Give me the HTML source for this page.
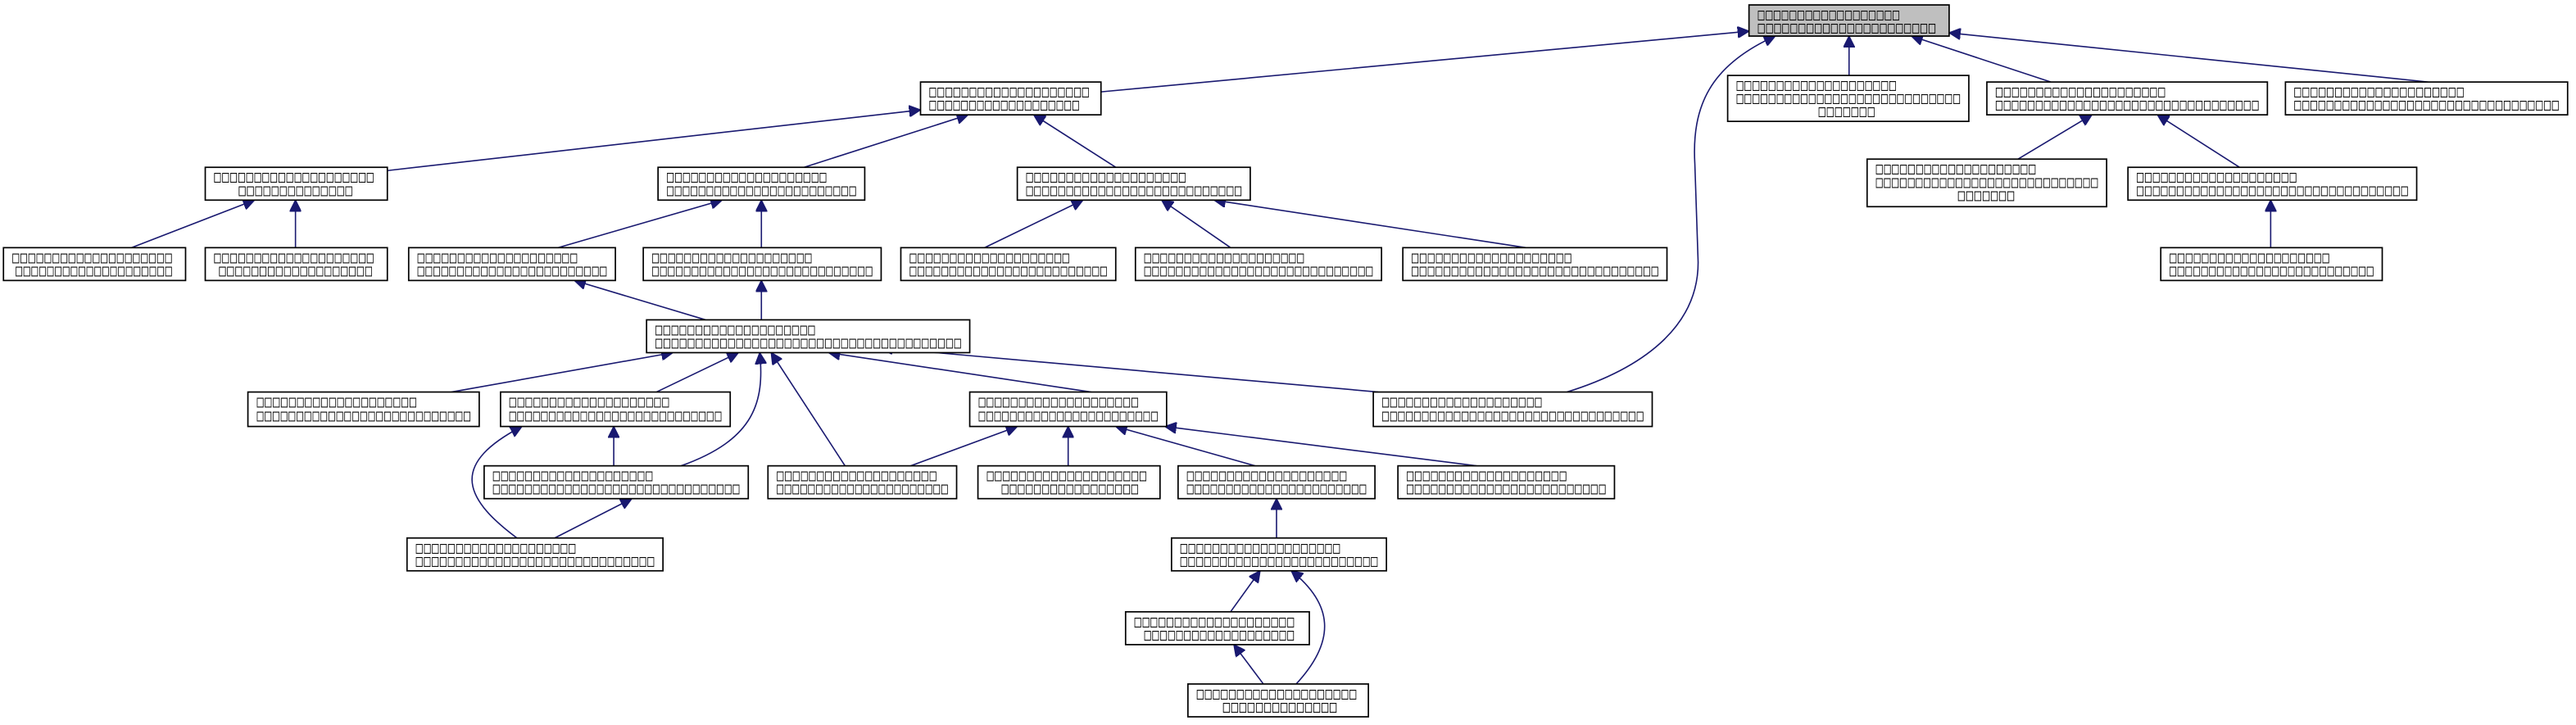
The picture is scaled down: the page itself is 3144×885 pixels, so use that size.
<!DOCTYPE html>
<html><head><meta charset="utf-8"><style>
html,body{margin:0;padding:0;background:#fff;}
svg{display:block;}
text{font-family:"DejaVu Sans","Liberation Sans",sans-serif;font-size:7.6px;fill:#000;stroke:#000;stroke-width:0.15;}
rect{fill:#fff;stroke:#000;stroke-width:0.85;}
.e{fill:none;stroke:#191970;stroke-width:0.8;}
</style></head><body>
<svg width="3144" height="885" viewBox="0 0 1570 442" xmlns="http://www.w3.org/2000/svg">
<defs><marker id="a" viewBox="0 0 10 10" refX="10" refY="5" markerWidth="7" markerHeight="7" orient="auto" markerUnits="userSpaceOnUse"><path d="M0,0 L10,5 L0,10 z" fill="#191970" stroke="#191970"/></marker></defs>
<g class="edges">
<path class="e" marker-end="url(#a)" d="M671,56 L1066,19"/>
<path class="e" marker-end="url(#a)" d="M1127,46 L1127,22"/>
<path class="e" marker-end="url(#a)" d="M1250,50 L1165,22"/>
<path class="e" marker-end="url(#a)" d="M1480,50 L1188,20"/>
<path class="e" marker-end="url(#a)" d="M955,239 C1000,225 1035,200 1035,160 L1033,100 C1031,65 1042,40 1082,22"/>
<path class="e" marker-end="url(#a)" d="M236,104 L561,67"/>
<path class="e" marker-end="url(#a)" d="M490,102 L590,70"/>
<path class="e" marker-end="url(#a)" d="M680,102 L630,70"/>
<path class="e" marker-end="url(#a)" d="M80,151 L155,122"/>
<path class="e" marker-end="url(#a)" d="M180,151 L180,122"/>
<path class="e" marker-end="url(#a)" d="M340,151 L440,122"/>
<path class="e" marker-end="url(#a)" d="M464,151 L464,122"/>
<path class="e" marker-end="url(#a)" d="M600,151 L660,122"/>
<path class="e" marker-end="url(#a)" d="M750,151 L708,122"/>
<path class="e" marker-end="url(#a)" d="M930,151 L740,122"/>
<path class="e" marker-end="url(#a)" d="M1230,97 L1275,70"/>
<path class="e" marker-end="url(#a)" d="M1365,102 L1315,70"/>
<path class="e" marker-end="url(#a)" d="M1384,151 L1384,122"/>
<path class="e" marker-end="url(#a)" d="M430,195 L350,171"/>
<path class="e" marker-end="url(#a)" d="M464,195 L464,171"/>
<path class="e" marker-end="url(#a)" d="M275,239 L410,215"/>
<path class="e" marker-end="url(#a)" d="M400,239 L450,215"/>
<path class="e" marker-end="url(#a)" d="M415,284 C460,268 466,245 463,215"/>
<path class="e" marker-end="url(#a)" d="M515,284 L470,215"/>
<path class="e" marker-end="url(#a)" d="M665,239 L505,215"/>
<path class="e" marker-end="url(#a)" d="M840,239 L537,212"/>
<path class="e" marker-end="url(#a)" d="M374,284 L374,260"/>
<path class="e" marker-end="url(#a)" d="M338,328 L385,304"/>
<path class="e" marker-end="url(#a)" d="M315,328 C280,302 276,282 318,260"/>
<path class="e" marker-end="url(#a)" d="M555,284 L620,260"/>
<path class="e" marker-end="url(#a)" d="M651,284 L651,260"/>
<path class="e" marker-end="url(#a)" d="M765,284 L680,260"/>
<path class="e" marker-end="url(#a)" d="M900,284 L710,260"/>
<path class="e" marker-end="url(#a)" d="M778,328 L778,304"/>
<path class="e" marker-end="url(#a)" d="M750,373 L768,348"/>
<path class="e" marker-end="url(#a)" d="M770,417 L752,393"/>
<path class="e" marker-end="url(#a)" d="M790,417 C815,390 812,368 787,348"/>
</g>
<g>
<rect x="1066" y="3" width="122" height="19" style="fill:#bfbfbf"/>
<text x="1071" y="11.5" textLength="87" lengthAdjust="spacingAndGlyphs">□□□□□□□□□□□□□□□□□□</text>
<text x="1071" y="19.5" textLength="109" lengthAdjust="spacingAndGlyphs">□□□□□□□□□□□□□□□□□□□□□□</text>

<rect x="561" y="50" width="110" height="20"/>
<text x="566" y="58.5" textLength="98" lengthAdjust="spacingAndGlyphs">□□□□□□□□□□□□□□□□□□□□</text>
<text x="566" y="66.5" textLength="92" lengthAdjust="spacingAndGlyphs">□□□□□□□□□□□□□□□□□□□</text>

<rect x="1053" y="46" width="147" height="28"/>
<text x="1058" y="54.5" textLength="98" lengthAdjust="spacingAndGlyphs">□□□□□□□□□□□□□□□□□□□□</text>
<text x="1058" y="62.5" textLength="137" lengthAdjust="spacingAndGlyphs">□□□□□□□□□□□□□□□□□□□□□□□□□□□□</text>
<text x="1108" y="70.5" textLength="35" lengthAdjust="spacingAndGlyphs">□□□□□□□</text>

<rect x="1211" y="50" width="171" height="20"/>
<text x="1216" y="58.5" textLength="104" lengthAdjust="spacingAndGlyphs">□□□□□□□□□□□□□□□□□□□□□</text>
<text x="1216" y="66.5" textLength="161" lengthAdjust="spacingAndGlyphs">□□□□□□□□□□□□□□□□□□□□□□□□□□□□□□□□□</text>

<rect x="1393" y="50" width="172" height="20"/>
<text x="1398" y="58.5" textLength="104" lengthAdjust="spacingAndGlyphs">□□□□□□□□□□□□□□□□□□□□□</text>
<text x="1398" y="66.5" textLength="162" lengthAdjust="spacingAndGlyphs">□□□□□□□□□□□□□□□□□□□□□□□□□□□□□□□□□</text>

<rect x="125" y="102" width="111" height="20"/>
<text x="130" y="110.5" textLength="98" lengthAdjust="spacingAndGlyphs">□□□□□□□□□□□□□□□□□□□□</text>
<text x="145" y="118.5" textLength="70" lengthAdjust="spacingAndGlyphs">□□□□□□□□□□□□□□</text>

<rect x="401" y="102" width="126" height="20"/>
<text x="406" y="110.5" textLength="98" lengthAdjust="spacingAndGlyphs">□□□□□□□□□□□□□□□□□□□□</text>
<text x="406" y="118.5" textLength="116" lengthAdjust="spacingAndGlyphs">□□□□□□□□□□□□□□□□□□□□□□□□</text>

<rect x="620" y="102" width="142" height="20"/>
<text x="625" y="110.5" textLength="98" lengthAdjust="spacingAndGlyphs">□□□□□□□□□□□□□□□□□□□□</text>
<text x="625" y="118.5" textLength="132" lengthAdjust="spacingAndGlyphs">□□□□□□□□□□□□□□□□□□□□□□□□□□□</text>

<rect x="1138" y="97" width="146" height="29"/>
<text x="1143" y="105.5" textLength="98" lengthAdjust="spacingAndGlyphs">□□□□□□□□□□□□□□□□□□□□</text>
<text x="1143" y="113.5" textLength="136" lengthAdjust="spacingAndGlyphs">□□□□□□□□□□□□□□□□□□□□□□□□□□□□</text>
<text x="1193" y="121.5" textLength="35" lengthAdjust="spacingAndGlyphs">□□□□□□□</text>

<rect x="1297" y="102" width="176" height="20"/>
<text x="1302" y="110.5" textLength="98" lengthAdjust="spacingAndGlyphs">□□□□□□□□□□□□□□□□□□□□</text>
<text x="1302" y="118.5" textLength="166" lengthAdjust="spacingAndGlyphs">□□□□□□□□□□□□□□□□□□□□□□□□□□□□□□□□□□</text>

<rect x="1317" y="151" width="135" height="20"/>
<text x="1322" y="159.5" textLength="98" lengthAdjust="spacingAndGlyphs">□□□□□□□□□□□□□□□□□□□□</text>
<text x="1322" y="167.5" textLength="125" lengthAdjust="spacingAndGlyphs">□□□□□□□□□□□□□□□□□□□□□□□□□□</text>

<rect x="2" y="151" width="111" height="20"/>
<text x="7" y="159.5" textLength="98" lengthAdjust="spacingAndGlyphs">□□□□□□□□□□□□□□□□□□□□</text>
<text x="9" y="167.5" textLength="96" lengthAdjust="spacingAndGlyphs">□□□□□□□□□□□□□□□□□□□□</text>

<rect x="125" y="151" width="111" height="20"/>
<text x="130" y="159.5" textLength="98" lengthAdjust="spacingAndGlyphs">□□□□□□□□□□□□□□□□□□□□</text>
<text x="133" y="167.5" textLength="94" lengthAdjust="spacingAndGlyphs">□□□□□□□□□□□□□□□□□□□</text>

<rect x="249" y="151" width="126" height="20"/>
<text x="254" y="159.5" textLength="98" lengthAdjust="spacingAndGlyphs">□□□□□□□□□□□□□□□□□□□□</text>
<text x="254" y="167.5" textLength="116" lengthAdjust="spacingAndGlyphs">□□□□□□□□□□□□□□□□□□□□□□□□</text>

<rect x="392" y="151" width="145" height="20"/>
<text x="397" y="159.5" textLength="98" lengthAdjust="spacingAndGlyphs">□□□□□□□□□□□□□□□□□□□□</text>
<text x="397" y="167.5" textLength="135" lengthAdjust="spacingAndGlyphs">□□□□□□□□□□□□□□□□□□□□□□□□□□□□</text>

<rect x="549" y="151" width="131" height="20"/>
<text x="554" y="159.5" textLength="98" lengthAdjust="spacingAndGlyphs">□□□□□□□□□□□□□□□□□□□□</text>
<text x="554" y="167.5" textLength="121" lengthAdjust="spacingAndGlyphs">□□□□□□□□□□□□□□□□□□□□□□□□□</text>

<rect x="692" y="151" width="150" height="20"/>
<text x="697" y="159.5" textLength="98" lengthAdjust="spacingAndGlyphs">□□□□□□□□□□□□□□□□□□□□</text>
<text x="697" y="167.5" textLength="140" lengthAdjust="spacingAndGlyphs">□□□□□□□□□□□□□□□□□□□□□□□□□□□□□</text>

<rect x="855" y="151" width="161" height="20"/>
<text x="860" y="159.5" textLength="98" lengthAdjust="spacingAndGlyphs">□□□□□□□□□□□□□□□□□□□□</text>
<text x="860" y="167.5" textLength="151" lengthAdjust="spacingAndGlyphs">□□□□□□□□□□□□□□□□□□□□□□□□□□□□□□□</text>

<rect x="394" y="195" width="197" height="20"/>
<text x="399" y="203.5" textLength="98" lengthAdjust="spacingAndGlyphs">□□□□□□□□□□□□□□□□□□□□</text>
<text x="399" y="211.5" textLength="187" lengthAdjust="spacingAndGlyphs">□□□□□□□□□□□□□□□□□□□□□□□□□□□□□□□□□□□□□□</text>

<rect x="151" y="239" width="141" height="21"/>
<text x="156" y="247.5" textLength="98" lengthAdjust="spacingAndGlyphs">□□□□□□□□□□□□□□□□□□□□</text>
<text x="156" y="256" textLength="131" lengthAdjust="spacingAndGlyphs">□□□□□□□□□□□□□□□□□□□□□□□□□□□</text>

<rect x="305" y="239" width="140" height="21"/>
<text x="310" y="247.5" textLength="98" lengthAdjust="spacingAndGlyphs">□□□□□□□□□□□□□□□□□□□□</text>
<text x="310" y="256" textLength="130" lengthAdjust="spacingAndGlyphs">□□□□□□□□□□□□□□□□□□□□□□□□□□□</text>

<rect x="591" y="239" width="120" height="21"/>
<text x="596" y="247.5" textLength="98" lengthAdjust="spacingAndGlyphs">□□□□□□□□□□□□□□□□□□□□</text>
<text x="596" y="256" textLength="110" lengthAdjust="spacingAndGlyphs">□□□□□□□□□□□□□□□□□□□□□□□</text>

<rect x="837" y="239" width="170" height="21"/>
<text x="842" y="247.5" textLength="98" lengthAdjust="spacingAndGlyphs">□□□□□□□□□□□□□□□□□□□□</text>
<text x="842" y="256" textLength="160" lengthAdjust="spacingAndGlyphs">□□□□□□□□□□□□□□□□□□□□□□□□□□□□□□□□□</text>

<rect x="295" y="284" width="161" height="20"/>
<text x="300" y="292.5" textLength="98" lengthAdjust="spacingAndGlyphs">□□□□□□□□□□□□□□□□□□□□</text>
<text x="300" y="300.5" textLength="151" lengthAdjust="spacingAndGlyphs">□□□□□□□□□□□□□□□□□□□□□□□□□□□□□□□</text>

<rect x="468" y="284" width="115" height="20"/>
<text x="473" y="292.5" textLength="98" lengthAdjust="spacingAndGlyphs">□□□□□□□□□□□□□□□□□□□□</text>
<text x="473" y="300.5" textLength="105" lengthAdjust="spacingAndGlyphs">□□□□□□□□□□□□□□□□□□□□□□</text>

<rect x="596" y="284" width="111" height="20"/>
<text x="601" y="292.5" textLength="98" lengthAdjust="spacingAndGlyphs">□□□□□□□□□□□□□□□□□□□□</text>
<text x="610" y="300.5" textLength="84" lengthAdjust="spacingAndGlyphs">□□□□□□□□□□□□□□□□□</text>

<rect x="718" y="284" width="120" height="20"/>
<text x="723" y="292.5" textLength="98" lengthAdjust="spacingAndGlyphs">□□□□□□□□□□□□□□□□□□□□</text>
<text x="723" y="300.5" textLength="110" lengthAdjust="spacingAndGlyphs">□□□□□□□□□□□□□□□□□□□□□□□</text>

<rect x="852" y="284" width="132" height="20"/>
<text x="857" y="292.5" textLength="98" lengthAdjust="spacingAndGlyphs">□□□□□□□□□□□□□□□□□□□□</text>
<text x="857" y="300.5" textLength="122" lengthAdjust="spacingAndGlyphs">□□□□□□□□□□□□□□□□□□□□□□□□□</text>

<rect x="248" y="328" width="156" height="20"/>
<text x="253" y="336.5" textLength="98" lengthAdjust="spacingAndGlyphs">□□□□□□□□□□□□□□□□□□□□</text>
<text x="253" y="344.5" textLength="146" lengthAdjust="spacingAndGlyphs">□□□□□□□□□□□□□□□□□□□□□□□□□□□□□□</text>

<rect x="714" y="328" width="131" height="20"/>
<text x="719" y="336.5" textLength="98" lengthAdjust="spacingAndGlyphs">□□□□□□□□□□□□□□□□□□□□</text>
<text x="719" y="344.5" textLength="121" lengthAdjust="spacingAndGlyphs">□□□□□□□□□□□□□□□□□□□□□□□□□</text>

<rect x="686" y="373" width="112" height="20"/>
<text x="691" y="381.5" textLength="98" lengthAdjust="spacingAndGlyphs">□□□□□□□□□□□□□□□□□□□□</text>
<text x="697" y="389.5" textLength="92" lengthAdjust="spacingAndGlyphs">□□□□□□□□□□□□□□□□□□□</text>

<rect x="724" y="417" width="110" height="20"/>
<text x="729" y="425.5" textLength="98" lengthAdjust="spacingAndGlyphs">□□□□□□□□□□□□□□□□□□□□</text>
<text x="745" y="433.5" textLength="70" lengthAdjust="spacingAndGlyphs">□□□□□□□□□□□□□□</text>
</g>
</svg>
</body></html>
